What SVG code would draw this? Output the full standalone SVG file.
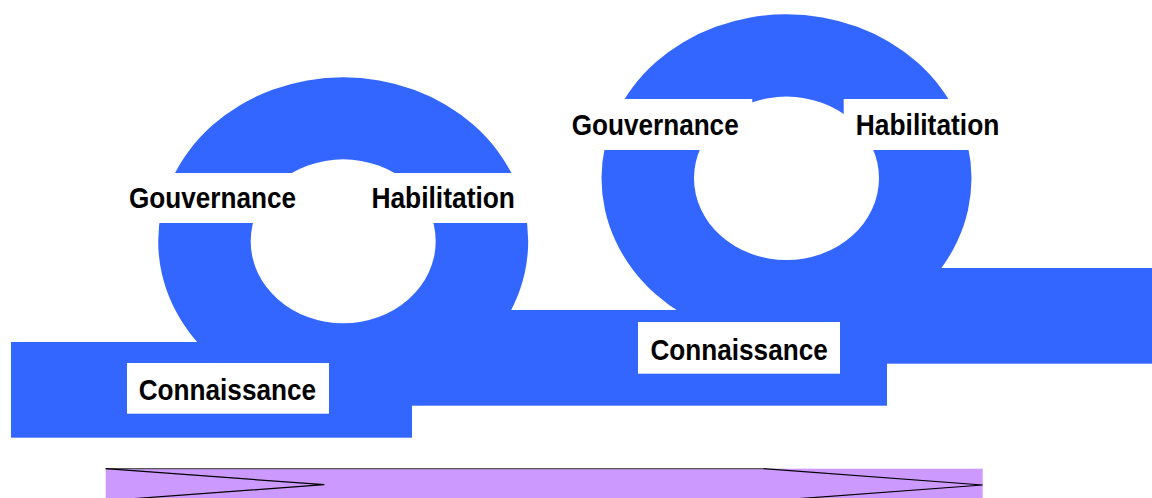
<svg xmlns="http://www.w3.org/2000/svg" width="1152" height="498" viewBox="0 0 1152 498">
  <style>
    .ring { fill: #3366FF; fill-rule: evenodd; }
    .band { fill: #3366FF; }
    .plate { fill: #FFFFFF; }
    .label { font-family: "Liberation Sans", Arial, sans-serif; font-weight: bold; font-size: 30px; fill: #000000; }
    .bar { fill: #CC99FF; }
    .edge { fill: none; stroke: #5a5a5a; stroke-width: 1.2; }
    .chevron { fill: none; stroke: #000000; stroke-width: 1.2; stroke-linejoin: miter; }
  </style>

  <rect width="1152" height="498" fill="#FFFFFF"/>

  <!-- stepped track under the two loops -->
  <g id="track">
    <rect class="band" x="11" y="342" width="401" height="95.7"/>
    <rect class="band" x="412" y="310" width="475" height="95.7"/>
    <rect class="band" x="887" y="268" width="265" height="95.7"/>
  </g>

  <!-- first loop -->
  <g id="loop-1">
    <path class="ring" d="M 158.2 241.3 A 185 164 0 1 0 528.2 241.3 A 185 164 0 1 0 158.2 241.3 Z
                          M 250.7 241.3 A 92.5 82 0 1 0 435.7 241.3 A 92.5 82 0 1 0 250.7 241.3 Z"/>
  </g>

  <!-- second loop -->
  <g id="loop-2">
    <path class="ring" d="M 601.5 178.3 A 185 164 0 1 0 971.5 178.3 A 185 164 0 1 0 601.5 178.3 Z
                          M 694 178.3 A 92.5 81.7 0 1 0 879 178.3 A 92.5 81.7 0 1 0 694 178.3 Z"/>
  </g>

  <!-- labels of the first loop -->
  <g id="gouvernance-1">
    <rect class="plate" x="124" y="173" width="169.3" height="50"/>
    <text class="label" x="129" y="208.3" textLength="167" lengthAdjust="spacingAndGlyphs">Gouvernance</text>
  </g>
  <g id="habilitation-1">
    <rect class="plate" x="393.3" y="173" width="133.7" height="50"/>
    <text class="label" x="371.4" y="208.3" textLength="143.6" lengthAdjust="spacingAndGlyphs">Habilitation</text>
  </g>
  <g id="connaissance-1">
    <rect class="plate" x="127" y="363" width="202" height="50.7"/>
    <text class="label" x="138.7" y="399.5" textLength="177.4" lengthAdjust="spacingAndGlyphs">Connaissance</text>
  </g>

  <!-- labels of the second loop -->
  <g id="gouvernance-2">
    <rect class="plate" x="566" y="99" width="186.3" height="51"/>
    <text class="label" x="571.7" y="135" textLength="167" lengthAdjust="spacingAndGlyphs">Gouvernance</text>
  </g>
  <g id="habilitation-2">
    <rect class="plate" x="843.7" y="99" width="158.3" height="51"/>
    <text class="label" x="855.8" y="135" textLength="143.6" lengthAdjust="spacingAndGlyphs">Habilitation</text>
  </g>
  <g id="connaissance-2">
    <rect class="plate" x="638" y="322" width="202" height="51.7"/>
    <text class="label" x="650.4" y="359.5" textLength="177.4" lengthAdjust="spacingAndGlyphs">Connaissance</text>
  </g>

  <!-- timeline bar along the bottom -->
  <g id="timeline">
    <rect class="bar" x="105.7" y="468.7" width="877" height="40"/>
    <line class="edge" x1="105.7" y1="468.7" x2="763.3" y2="468.7"/>
    <polyline class="chevron" points="105.7,468.7 324.3,484.7 105.7,500.7"/>
    <polyline class="chevron" points="763.3,468.7 982.7,485 763.3,501.3"/>
  </g>
</svg>
